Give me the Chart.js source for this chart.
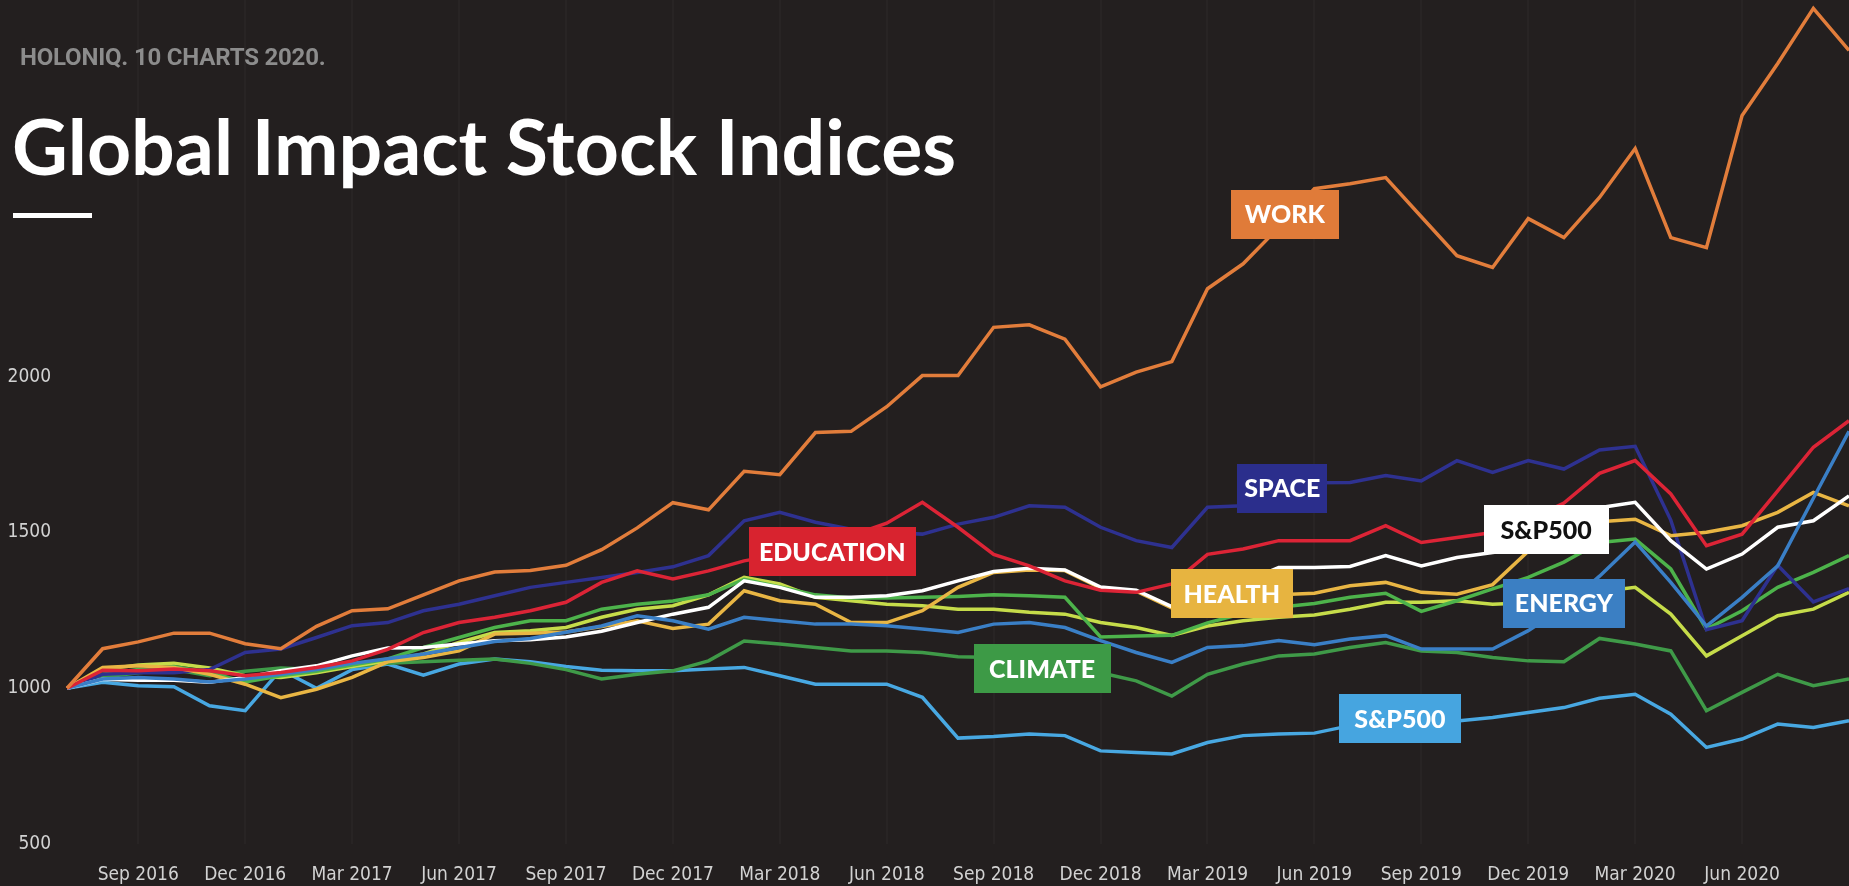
<!DOCTYPE html>
<html>
<head>
<meta charset="utf-8">
<script src="https://cdn.jsdelivr.net/npm/chart.js@4.4.0/dist/chart.umd.min.js"></script>
<style>
  html, body { margin: 0; padding: 0; background: #231f1f; overflow: hidden; }
  #wrap { position: relative; width: 1849px; height: 886px; }
  #chart { position: absolute; left: 0; top: 0; }
  .kicker { position: absolute; left: 20px; top: 45px; font: bold 24px "Roboto", sans-serif; color: #8c8c8c; line-height: 24px; letter-spacing: -0.2px; }
  .title { position: absolute; left: 12px; top: 106px; font: bold 77px "Lato", sans-serif; color: #fff; line-height: 78px; white-space: nowrap; }
  .rule { position: absolute; left: 13px; top: 213px; width: 79px; height: 5px; background: #fff; }
</style>
</head>
<body>
<div id="wrap">
  <canvas id="chart" width="1849" height="886"></canvas>
  <div class="kicker">HOLONIQ. 10 CHARTS 2020.</div>
  <div class="title">Global Impact Stock Indices</div>
  <div class="rule"></div>
</div>
<script>
// monthly closes, rebased to 1000 in Jul 2016
var months = ['Jul 2016','Aug 2016','Sep 2016','Oct 2016','Nov 2016','Dec 2016',
  'Jan 2017','Feb 2017','Mar 2017','Apr 2017','May 2017','Jun 2017','Jul 2017','Aug 2017','Sep 2017','Oct 2017','Nov 2017','Dec 2017',
  'Jan 2018','Feb 2018','Mar 2018','Apr 2018','May 2018','Jun 2018','Jul 2018','Aug 2018','Sep 2018','Oct 2018','Nov 2018','Dec 2018',
  'Jan 2019','Feb 2019','Mar 2019','Apr 2019','May 2019','Jun 2019','Jul 2019','Aug 2019','Sep 2019','Oct 2019','Nov 2019','Dec 2019',
  'Jan 2020','Feb 2020','Mar 2020','Apr 2020','May 2020','Jun 2020','Jul 2020','Aug 2020','Sep 2020'];

var tickLabels = ['Sep 2016','Dec 2016','Mar 2017','Jun 2017','Sep 2017','Dec 2017','Mar 2018','Jun 2018',
  'Sep 2018','Dec 2018','Mar 2019','Jun 2019','Sep 2019','Dec 2019','Mar 2020','Jun 2020'];
var yTicks = [500, 1000, 1500, 2000];

var work = [1000,1127,1149,1177,1177,1143,1127,1199,1249,1255,1300,1345,1373,1378,1395,1445,1515,1596,1573,1697,1686,1821,1825,1904,2004,2004,2159,2167,2121,1968,2015,2049,2283,2363,2480,2604,2620,2640,2514,2389,2351,2508,2447,2576,2733,2447,2415,2839,3006,3183,3048];
var space = [1000,1045,1050,1050,1060,1115,1126,1163,1201,1211,1249,1270,1297,1324,1340,1356,1372,1390,1426,1538,1565,1533,1511,1500,1495,1527,1549,1586,1581,1517,1474,1452,1581,1586,1630,1660,1661,1683,1666,1731,1693,1731,1704,1765,1777,1540,1188,1217,1395,1277,1320];
var education = [1000,1058,1056,1062,1056,1040,1051,1067,1088,1125,1179,1211,1228,1249,1276,1340,1377,1351,1377,1409,1430,1460,1490,1530,1597,1517,1430,1393,1345,1315,1308,1335,1430,1447,1474,1474,1474,1522,1468,1484,1500,1540,1595,1690,1731,1624,1458,1495,1634,1774,1859];
var sp500 = [1000,1029,1026,1026,1019,1035,1056,1072,1104,1129,1131,1142,1153,1156,1165,1183,1211,1238,1260,1345,1324,1292,1292,1297,1313,1345,1375,1385,1380,1325,1315,1262,1290,1340,1388,1388,1391,1426,1393,1420,1436,1450,1470,1580,1597,1474,1383,1431,1517,1538,1618];
var health = [1000,1067,1072,1067,1045,1013,970,997,1035,1085,1099,1120,1174,1177,1181,1198,1217,1192,1206,1313,1281,1270,1211,1211,1249,1324,1372,1380,1378,1322,1312,1258,1265,1285,1300,1305,1329,1340,1308,1302,1333,1440,1500,1535,1543,1490,1501,1522,1565,1629,1586];
var energy = [1000,1030,1035,1030,1020,1030,1045,1060,1080,1095,1110,1130,1150,1160,1180,1200,1233,1217,1190,1228,1217,1206,1206,1201,1190,1179,1206,1211,1195,1153,1115,1083,1131,1137,1153,1140,1158,1169,1126,1126,1126,1185,1260,1360,1470,1340,1200,1292,1393,1610,1825];
var climate = [1000,1035,1050,1060,1040,1055,1065,1060,1070,1080,1085,1090,1094,1080,1060,1030,1045,1056,1088,1152,1142,1131,1120,1120,1115,1101,1099,1095,1085,1050,1024,975,1045,1078,1104,1110,1131,1147,1120,1115,1099,1088,1085,1160,1142,1120,928,987,1045,1008,1030];
var sp500Blue = [1000,1019,1008,1005,944,928,1060,1000,1060,1078,1042,1078,1094,1085,1070,1058,1056,1056,1062,1067,1040,1013,1013,1013,971,840,845,853,848,799,794,789,826,848,853,856,880,885,890,895,906,922,938,968,981,917,810,837,885,874,896];
var greenIdx = [1000,1045,1060,1070,1050,1020,1040,1055,1075,1094,1131,1163,1195,1217,1217,1254,1270,1280,1300,1350,1325,1300,1290,1290,1292,1295,1300,1297,1292,1165,1168,1170,1210,1240,1260,1272,1292,1305,1247,1281,1319,1356,1405,1468,1479,1383,1190,1249,1324,1372,1426];
var limeIdx = [1000,1060,1075,1080,1065,1040,1035,1050,1070,1088,1110,1147,1179,1185,1195,1228,1254,1265,1300,1356,1335,1292,1281,1270,1265,1254,1254,1244,1238,1211,1195,1170,1200,1217,1228,1235,1254,1276,1276,1281,1270,1275,1290,1310,1324,1238,1104,1169,1233,1254,1308];

// name tags: anchor is [month index, index value] of the box centre
var tags = [
  { text: 'WORK',      at: [34.17, 2522], w: 108, bg: '#e07b39', fg: '#ffffff' },
  { text: 'SPACE',     at: [34.1, 1642],  w: 90,  bg: '#2b2e8c', fg: '#ffffff' },
  { text: 'EDUCATION', at: [21.47, 1438], w: 167, bg: '#d8232f', fg: '#ffffff' },
  { text: 'S&P500',    at: [41.5, 1509],  w: 125, bg: '#ffffff', fg: '#111111' },
  { text: 'HEALTH',    at: [32.68, 1304], w: 122, bg: '#e7b440', fg: '#ffffff' },
  { text: 'ENERGY',    at: [42.0, 1273],  w: 122, bg: '#3b7fc3', fg: '#ffffff' },
  { text: 'CLIMATE',   at: [27.36, 1063], w: 137, bg: '#3d9a46', fg: '#ffffff' },
  { text: 'S&P500',    at: [37.4, 902],   w: 122, bg: '#46a5e0', fg: '#ffffff' }
];

var boxLabels = {
  id: 'boxLabels',
  afterDatasetsDraw: function(chart) {
    var c = chart.ctx, xs = chart.scales.x, ys = chart.scales.y;
    c.save();
    c.font = '900 25px Lato, sans-serif';
    c.textAlign = 'center';
    c.textBaseline = 'middle';
    tags.forEach(function(t) {
      var x = xs.getPixelForValue(t.at[0]);
      var y = ys.getPixelForValue(t.at[1]);
      var h = 49;
      c.fillStyle = t.bg;
      c.fillRect(Math.round(x - t.w / 2), Math.round(y - h / 2), t.w, h);
      c.fillStyle = t.fg;
      c.fillText(t.text, x, y + 1);
    });
    c.restore();
  }
};

function line(label, data, color) {
  return { label: label, data: data, borderColor: color, backgroundColor: color,
    borderWidth: 3.5, pointRadius: 0, tension: 0, fill: false };
}

// drop the auto padding Chart.js adds for edge tick labels
function noPad(s) {
  s.paddingTop = 0; s.paddingBottom = 0; s.paddingLeft = 0; s.paddingRight = 0;
}

var tickFont = { family: "'Liberation Sans Narrow', 'DejaVu Sans Condensed', sans-serif", size: 19 };

var ctx = document.getElementById('chart').getContext('2d');
var chart = new Chart(ctx, {
  type: 'line',
  data: {
    labels: months,
    datasets: [
      line('Work', work, '#e27d3b'),
      line('Education', education, '#dc2436'),
      line('Energy', energy, '#3a7fc6'),
      line('S&P500', sp500, '#ffffff'),
      line('Health', health, '#e9b644'),
      line('Space', space, '#2e3190'),
      line('Green index', greenIdx, '#4db34b'),
      line('Lime index', limeIdx, '#c6dc4a'),
      line('Climate', climate, '#3f9a48'),
      line('S&P500 (blue)', sp500Blue, '#48a8e2')
    ]
  },
  options: {
    responsive: false,
    animation: false,
    layout: { padding: 0 },
    plugins: { legend: { display: false }, tooltip: { enabled: false } },
    scales: {
      x: {
        border: { display: false },
        grid: {
          drawTicks: false,
          lineWidth: 2,
          color: function(c) {
            return tickLabels.indexOf(months[c.index]) >= 0 ? 'rgba(255,255,255,0.022)' : 'transparent';
          }
        },
        afterFit: function(s) { s.height = 42; noPad(s); },
        ticks: {
          autoSkip: false, maxRotation: 0, padding: 20, color: '#d2d2d2', font: tickFont,
          callback: function(v, i) {
            var l = months[i];
            return tickLabels.indexOf(l) >= 0 ? l : '';
          }
        }
      },
      y: {
        min: 500,
        max: 3210,
        border: { display: false },
        grid: { display: false, drawTicks: false },
        afterBuildTicks: function(s) { s.ticks = yTicks.map(function(v) { return { value: v }; }); },
        afterFit: function(s) { s.width = 67; noPad(s); },
        ticks: {
          padding: 16, color: '#d2d2d2', font: { family: tickFont.family, size: 19 },
          callback: function(v) { return String(v); }
        }
      }
    }
  },
  plugins: [boxLabels]
});
</script>
</body>
</html>
